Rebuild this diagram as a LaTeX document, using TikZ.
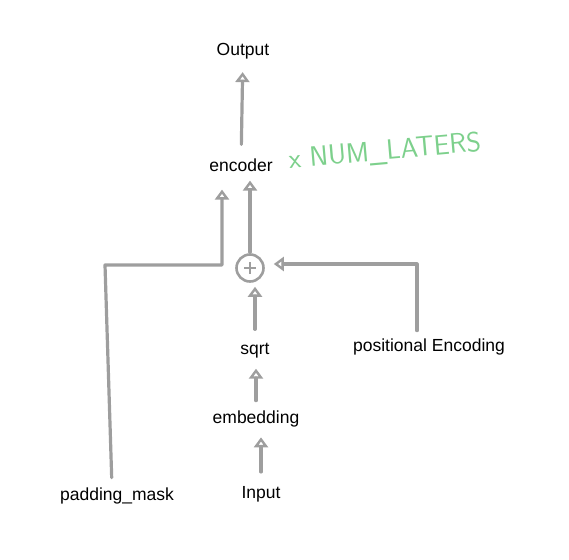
\documentclass[tikz,border=0pt]{standalone}
\usepackage{fontspec}
\setmainfont{Liberation Sans}
\usetikzlibrary{arrows.meta,calc}
\definecolor{sketch}{RGB}{158,158,158}
\definecolor{handgreen}{RGB}{125,208,140}
\tikzset{
  lbl/.style={font=\fontsize{17.5pt}{19pt}\selectfont, inner sep=0pt, anchor=center},
  arr/.style={draw=sketch, line width=3.2pt, line cap=round, line join=round,
    -{Triangle[open,length=10pt,width=14pt,line width=2.4pt]}}
}
\begin{document}
\begin{tikzpicture}[x=1pt,y=-1pt]
\useasboundingbox (0,0) rectangle (569,559);
% text nodes
\node[lbl] (output) at (243,51) {Output};
\node[lbl] (encoder) at (241,165) {encoder};
\node[lbl] (sqrt) at (255,351) {sqrt};
\node[lbl] (embedding) at (256,419) {embedding};
\node[lbl] (input) at (261,494) {Input};
\node[lbl] (pm) at (117,496) {padding\_mask};
\node[lbl] (pe) at (429,347) {positional Encoding};
\node[text=handgreen, font=\fontsize{28pt}{30pt}\selectfont\sffamily, rotate=5, inner sep=0pt] (layers) at (385,152) {x NUM\_LATERS};
% sum node
\node[draw=sketch, line width=2.6pt, circle, minimum size=27pt, inner sep=0pt] (plus) at (250,268) {};
\draw[sketch, line width=1.8pt] ($(plus.center)+(-6,0)$) -- ($(plus.center)+(6,0)$)
  ($(plus.center)+(0,-6)$) -- ($(plus.center)+(0,6)$);
% coordinates for bends
\coordinate (pmturn) at (105,265);
\coordinate (pmjoin) at (222,265);
\coordinate (peturn) at (417,264);
% connectors
\draw[arr, shorten <=14pt, shorten >=13pt] (encoder) -- (output);
\draw[arr, shorten <=1pt, shorten >=9pt] (plus.north) -- (plus.north |- encoder.south);
\draw[arr, shorten <=10pt] ($(pm.north)+(-5,0)$) -- (pmturn) -- (pmjoin) -- ($(pmjoin |- encoder.south)+(0,18)$);
\draw[arr, shorten <=8pt, shorten >=9pt] (pe.north -| peturn) -- (peturn) -- (plus.east |- peturn);
\draw[arr, shorten <=14pt, shorten >=4pt] (sqrt.north) -- (plus.south -| sqrt.north);
\draw[arr, shorten <=10pt, shorten >=10pt] (embedding.north) -- (sqrt.south -| embedding.north);
\draw[arr, shorten <=14pt, shorten >=10pt] (input.north) -- (embedding.south -| input.north);
\end{tikzpicture}
\end{document}
